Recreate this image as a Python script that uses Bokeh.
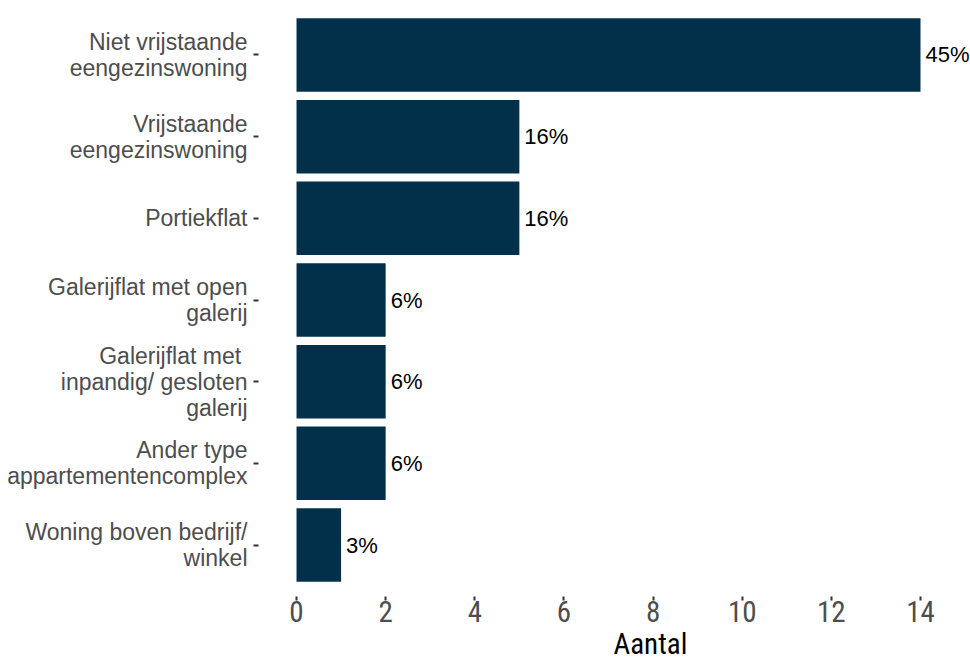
from bokeh.plotting import figure
from bokeh.models import Range1d, FixedTicker, ColumnDataSource, Title
from bokeh.core.properties import value
from bokeh.embed import file_html
from bokeh.resources import INLINE

categories = [
    "Niet vrijstaande\neengezinswoning",
    "Vrijstaande\neengezinswoning",
    "Portiekflat",
    "Galerijflat met open\ngalerij",
    "Galerijflat met \ninpandig/ gesloten\ngalerij",
    "Ander type\nappartementencomplex",
    "Woning boven bedrijf/\nwinkel",
]
counts = [14, 5, 5, 2, 2, 2, 1]
percent_labels = ["45%", "16%", "16%", "6%", "6%", "6%", "3%"]
x_ticks = [0, 2, 4, 6, 8, 10, 12, 14]
x_title = "Aantal"

n = len(categories)
ypos = [n - i for i in range(n)]

src = ColumnDataSource(dict(y=ypos, right=counts, lab=percent_labels))

FONT = "Liberation Sans"
NARROW = "'Liberation Sans Narrow', 'Arial Narrow', 'Roboto Condensed'"
BAR = "#02304B"

p = figure(width=970, height=675, output_backend="svg", toolbar_location=None,
           x_range=Range1d(-0.853, 15.122), y_range=Range1d(0.37, 7.667),
           min_border_left=258, min_border_right=0, min_border_top=0,
           min_border_bottom=79)
p.outline_line_color = None
p.background_fill_color = "white"
p.border_fill_color = "white"
p.xgrid.visible = False
p.ygrid.visible = False

p.hbar(y="y", left=0, right="right", height=0.9, source=src,
       fill_color=BAR, line_color=None)
p.text(x="right", y="y", text="lab", source=src, x_offset=5,
       text_align="left", text_baseline="middle",
       text_font=value(FONT), text_font_size="22px", text_color="black")

# axes
xa = p.xaxis[0]
xa.ticker = FixedTicker(ticks=x_ticks)
xa.axis_line_color = None
xa.major_tick_line_color = "#333333"
xa.major_tick_line_width = 2
xa.major_tick_in = 0
xa.major_tick_out = 4
xa.minor_tick_line_color = None
xa.major_label_text_font = NARROW
xa.major_label_text_font_size = "29px"
xa.major_label_text_color = "#4D4D4D"
xa.major_label_standoff = 0

ya = p.yaxis[0]
ya.ticker = FixedTicker(ticks=ypos)
ya.major_label_overrides = {y: c for y, c in zip(ypos, categories)}
ya.axis_line_color = None
ya.major_tick_line_color = "#333333"
ya.major_tick_line_width = 2
ya.major_tick_in = 0
ya.major_tick_out = 5
ya.minor_tick_line_color = None
ya.major_label_text_font = FONT
ya.major_label_text_font_size = "23px"
ya.major_label_text_color = "#4D4D4D"
ya.major_label_text_line_height = 1.0
ya.major_label_standoff = 6

p.add_layout(Title(text=x_title, align="left", offset=355,
                   text_font=NARROW, text_font_size="29px",
                   text_font_style="normal", text_color="black",
                   standoff=0), "below")

open("out.html", "w").write(file_html(p, INLINE))
